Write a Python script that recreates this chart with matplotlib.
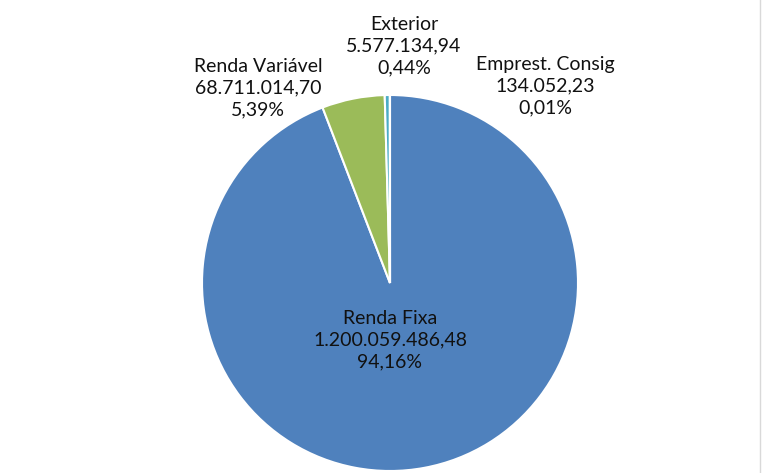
import matplotlib
matplotlib.use("Agg")
import matplotlib.pyplot as plt

labels = ["Renda Fixa", "Renda Variável", "Exterior", "Emprest. Consig"]
values = [1200059486.48, 68711014.70, 5577134.94, 134052.23]
colors = ["#4F81BD", "#9BBB59", "#4BACC6", "#C0504D"]
# label centres in pixels (x, y from top)
label_px = [(390, 340), (258, 88), (404, 46), (545, 86)]


def fmt_br(v):
    s = "{:,.2f}".format(v)
    return s.replace(",", "X").replace(".", ",").replace("X", ".")


W, H = 762, 473
cx, cy, r = 390, 283, 188

fig = plt.figure(figsize=(W / 100, H / 100), dpi=100)
ax = fig.add_axes([0, 0, 1, 1])

ax.pie(values, colors=colors, startangle=90, counterclock=False, radius=1,
       wedgeprops=dict(edgecolor="white", linewidth=1.5))

# pie() resets limits/aspect, so fix them afterwards
ax.set_aspect("auto")
ax.set_xlim(-cx / r, (W - cx) / r)
ax.set_ylim(-(H - cy) / r, cy / r)
ax.axis("off")

total = sum(values)
for lab, v, (px, py) in zip(labels, values, label_px):
    pct = "{:.2f}%".format(100 * v / total).replace(".", ",")
    ax.text((px - cx) / r, (cy - py) / r, lab + "\n" + fmt_br(v) + "\n" + pct,
            ha="center", va="center", fontsize=14, family="Lato",
            linespacing=1.33, color="#111111")

# thin frame edge on the right
fig.add_artist(plt.Line2D([760 / W, 760 / W], [0, 1], color="#d9d9d9", lw=1))

fig.savefig("out.png", dpi=100, facecolor="white")
